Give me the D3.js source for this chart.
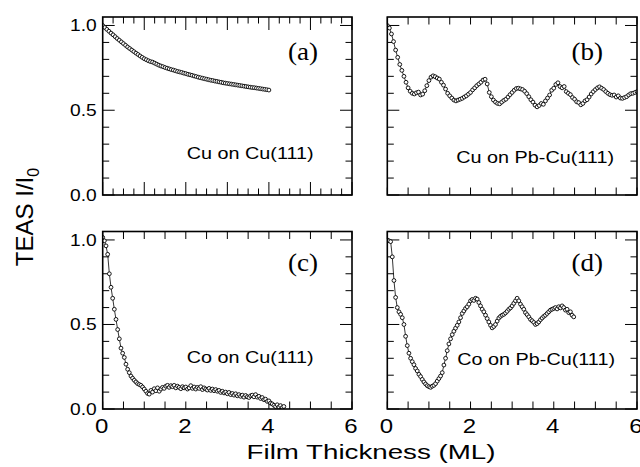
<!DOCTYPE html>
<html>
<head>
<meta charset="utf-8">
<script src="https://cdn.jsdelivr.net/npm/d3@7"></script>
<style>
  html, body { margin: 0; padding: 0; background: #fff; }
  svg { display: block; }
  text { font-family: "Liberation Sans", Arial, Helvetica, sans-serif; fill: #000; }
  .tag { font-family: "Liberation Serif", "Times New Roman", serif; }
</style>
</head>
<body>
<svg id="chart" width="640" height="467"></svg>
<script>
// TEAS specular intensity versus deposited film thickness (ML)
const panelTags = ["(a)", "(b)", "(c)", "(d)"];
const systems = ["Cu on Cu(111)", "Cu on Pb-Cu(111)", "Co on Cu(111)", "Co on Pb-Cu(111)"];
const xTickLabels = ["0", "2", "4", "6"];
const yTickLabels = ["0.0", "0.5", "1.0"];

// sampling step (ML) of each measurement
const stepCuCu = 0.05, stepCuPb = 0.05, stepCoCu = 0.04, stepCoPb = 0.04;

const intensityCuCu = [
  1.000, 0.988, 0.977, 0.966, 0.955, 0.945, 0.934, 0.923, 0.913, 0.903,
  0.893, 0.883, 0.873, 0.864, 0.855, 0.846, 0.837, 0.829, 0.820, 0.812,
  0.804, 0.798, 0.792, 0.787, 0.784, 0.778, 0.772, 0.766, 0.761, 0.757,
  0.752, 0.748, 0.744, 0.740, 0.737, 0.733, 0.729, 0.726, 0.723, 0.719,
  0.716, 0.712, 0.709, 0.706, 0.702, 0.699, 0.695, 0.692, 0.689, 0.686,
  0.683, 0.680, 0.677, 0.675, 0.672, 0.670, 0.667, 0.665, 0.662, 0.660,
  0.658, 0.656, 0.654, 0.652, 0.650, 0.648, 0.646, 0.644, 0.642, 0.640,
  0.638, 0.636, 0.634, 0.633, 0.631, 0.629, 0.627, 0.625, 0.623, 0.621,
  0.619
];

const intensityCuPb = [
  1.000, 0.985, 0.950, 0.905, 0.855, 0.812, 0.770, 0.735, 0.700, 0.665,
  0.632, 0.612, 0.600, 0.596, 0.603, 0.607, 0.590, 0.595, 0.615, 0.645,
  0.675, 0.695, 0.703, 0.698, 0.690, 0.684, 0.665, 0.648, 0.625, 0.600,
  0.585, 0.572, 0.560, 0.555, 0.560, 0.565, 0.570, 0.578, 0.585, 0.595,
  0.605, 0.620, 0.632, 0.645, 0.655, 0.665, 0.678, 0.683, 0.655, 0.605,
  0.580, 0.560, 0.548, 0.540, 0.538, 0.548, 0.558, 0.565, 0.578, 0.592,
  0.605, 0.618, 0.628, 0.630, 0.626, 0.622, 0.612, 0.598, 0.580, 0.562,
  0.548, 0.530, 0.520, 0.528, 0.540, 0.535, 0.555, 0.572, 0.590, 0.618,
  0.630, 0.652, 0.662, 0.640, 0.632, 0.640, 0.610, 0.600, 0.592, 0.575,
  0.565, 0.550, 0.545, 0.532, 0.540, 0.555, 0.562, 0.578, 0.596, 0.610,
  0.622, 0.632, 0.638, 0.630, 0.622, 0.610, 0.600, 0.592, 0.588, 0.590,
  0.578, 0.585, 0.572, 0.570, 0.575, 0.580, 0.590, 0.598, 0.600, 0.605,
  0.610
];

const intensityCoCu = [
  1.015, 0.995, 0.965, 0.915, 0.800, 0.720, 0.655, 0.590, 0.530, 0.470,
  0.415, 0.360, 0.330, 0.305, 0.265, 0.235, 0.215, 0.195, 0.182, 0.170,
  0.160, 0.150, 0.145, 0.140, 0.130, 0.118, 0.105, 0.092, 0.088, 0.110,
  0.100, 0.120, 0.108, 0.125, 0.105, 0.118, 0.128, 0.122, 0.135, 0.140,
  0.128, 0.138, 0.132, 0.140, 0.125, 0.135, 0.128, 0.120, 0.132, 0.125,
  0.130, 0.118, 0.125, 0.138, 0.122, 0.130, 0.118, 0.128, 0.122, 0.132,
  0.115, 0.125, 0.118, 0.112, 0.122, 0.110, 0.118, 0.108, 0.115, 0.105,
  0.110, 0.098, 0.105, 0.095, 0.100, 0.090, 0.098, 0.085, 0.092, 0.082,
  0.090, 0.078, 0.085, 0.075, 0.082, 0.070, 0.080, 0.072, 0.068, 0.078,
  0.082, 0.072, 0.085, 0.070, 0.075, 0.062, 0.068, 0.055, 0.058, 0.045,
  0.048, 0.035, 0.030, 0.022, 0.015, 0.025, 0.012, 0.020, 0.008, 0.015
];

const intensityCoPb = [
  1.000, 0.995, 0.990, 0.900, 0.760, 0.660, 0.600, 0.575, 0.560, 0.540,
  0.500, 0.430, 0.375, 0.330, 0.300, 0.280, 0.262, 0.240, 0.225, 0.205,
  0.192, 0.175, 0.160, 0.148, 0.138, 0.132, 0.128, 0.135, 0.140, 0.150,
  0.165, 0.180, 0.195, 0.215, 0.260, 0.300, 0.345, 0.385, 0.415, 0.440,
  0.460, 0.478, 0.495, 0.515, 0.540, 0.565, 0.580, 0.595, 0.605, 0.620,
  0.640, 0.648, 0.642, 0.655, 0.650, 0.630, 0.610, 0.590, 0.575, 0.555,
  0.535, 0.515, 0.495, 0.480, 0.488, 0.500, 0.520, 0.538, 0.548, 0.555,
  0.560, 0.568, 0.578, 0.590, 0.598, 0.610, 0.625, 0.640, 0.655, 0.640,
  0.620, 0.605, 0.590, 0.570, 0.558, 0.545, 0.530, 0.522, 0.512, 0.500,
  0.505, 0.515, 0.528, 0.538, 0.548, 0.555, 0.565, 0.575, 0.585, 0.590,
  0.595, 0.600, 0.592, 0.605, 0.598, 0.610, 0.600, 0.585, 0.590, 0.570,
  0.575, 0.555, 0.545
];

const series = [
  { values: intensityCuCu, step: stepCuCu },
  { values: intensityCuPb, step: stepCuPb },
  { values: intensityCoCu, step: stepCoCu },
  { values: intensityCoPb, step: stepCoPb }
];

const svg = d3.select("#chart");

// panel frames: two columns, two rows
const cols = [[102.7, 352], [387.3, 637]];
const rows = [[17, 195], [231.5, 409]];

// where each panel's system name sits (start x offset, baseline offset)
const nameOffsets = [[84, 142], [69, 146], [84, 131], [70, 133]];
const tagOffsets = [43, 43, 39, 39];

const yMax = 1.05;
const xMax = 6;

// text drawn with a horizontal stretch about its anchor point
function wideText(parent, x, y, anchor, size, sx, str, cls) {
  const t = parent.append("text")
    .attr("transform", `translate(${x},${y}) scale(${sx},1)`)
    .attr("text-anchor", anchor).attr("font-size", size).text(str);
  if (cls) t.attr("class", cls);
  return t;
}

series.forEach((s, i) => {
  const col = cols[i % 2], row = rows[Math.floor(i / 2)];
  const x = d3.scaleLinear().domain([0, xMax]).range(col);
  const y = d3.scaleLinear().domain([0, yMax]).range([row[1], row[0]]);
  const g = svg.append("g");

  const pts = s.values.map((v, k) => [k * s.step, v]);

  // inward ticks on all four sides
  const yMinor = d3.range(0, 11).map(d => d / 10);
  const xMinorStep = i === 0 ? 0.25 : 0.5;
  const xMinor = d3.range(0, xMax / xMinorStep + 1).map(d => d * xMinorStep);
  const isMajorY = v => Math.abs(v * 2 - Math.round(v * 2)) < 1e-6;
  const isMajorX = v => Math.abs(v - Math.round(v)) < 1e-6;

  const tg = g.append("g").attr("class", "ticks");
  yMinor.forEach(v => {
    const len = isMajorY(v) ? 12 : 6.5;
    tg.append("line").attr("x1", col[0]).attr("x2", col[0] + len)
      .attr("y1", y(v)).attr("y2", y(v));
    tg.append("line").attr("x1", col[1]).attr("x2", col[1] - len)
      .attr("y1", y(v)).attr("y2", y(v));
  });
  xMinor.forEach(v => {
    const len = (i === 0 && isMajorX(v)) ? 13 : (i === 0 ? 6.5 : 7.5);
    tg.append("line").attr("x1", x(v)).attr("x2", x(v))
      .attr("y1", row[1]).attr("y2", row[1] - len);
    tg.append("line").attr("x1", x(v)).attr("x2", x(v))
      .attr("y1", row[0]).attr("y2", row[0] + len);
  });
  tg.selectAll("line").attr("stroke", "#000").attr("stroke-width", 1);

  // y tick labels on the left column
  if (i % 2 === 0) {
    [0, 0.5, 1.0].forEach((v, k) => {
      wideText(g, col[0] - 6, y(v) + 5.8, "end", 16, 1.2, yTickLabels[k]);
    });
  }
  // x tick labels on the bottom row
  if (i >= 2) {
    [0, 2, 4, 6].forEach((v, k) => {
      wideText(g, x(v) - 1, row[1] + 24, "middle", 20, 1.2, xTickLabels[k]);
    });
  }

  // measured data: thin connecting line and open circles
  const clipId = "clip" + i;
  svg.append("clipPath").attr("id", clipId).append("rect")
    .attr("x", col[0]).attr("y", row[0]).attr("width", col[1] - col[0]).attr("height", row[1] - row[0]);
  const dg = g.append("g").attr("clip-path", `url(#${clipId})`);
  dg.append("path").datum(pts)
    .attr("d", d3.line().x(d => x(d[0])).y(d => y(d[1])))
    .attr("fill", "none").attr("stroke", "#000").attr("stroke-width", 0.8);
  dg.selectAll("circle").data(pts).enter().append("circle")
    .attr("cx", d => x(d[0])).attr("cy", d => y(d[1])).attr("r", 1.9)
    .attr("fill", "#fff").attr("stroke", "#000").attr("stroke-width", 0.9);

  // frame
  g.append("rect").attr("x", col[0]).attr("y", row[0])
    .attr("width", col[1] - col[0]).attr("height", row[1] - row[0])
    .attr("fill", "none").attr("stroke", "#000").attr("stroke-width", 1.6);

  // panel tag and system name
  wideText(g, col[1] - 34, row[0] + tagOffsets[i], "end", 26, 1.04, panelTags[i], "tag");
  wideText(g, col[0] + nameOffsets[i][0], row[0] + nameOffsets[i][1], "start", 16.5, 1.2, systems[i]);
});

// axis titles
wideText(svg, 371, 459, "middle", 21, 1.32, "Film Thickness (ML)");
const yt = svg.append("text").attr("transform", "translate(33,217) rotate(-90)")
  .attr("text-anchor", "middle").attr("font-size", 24);
yt.append("tspan").text("TEAS I/I");
yt.append("tspan").attr("font-size", 16).attr("dy", 6).text("0");
</script>
</body>
</html>
